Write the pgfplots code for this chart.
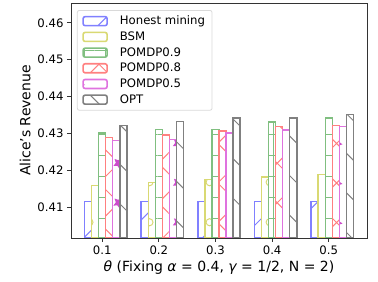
\documentclass[border=0pt]{standalone}
\usepackage{pgfplots}
\pgfplotsset{compat=1.18}
\usepackage{pgfplotstable}
\usepackage{fontspec}
\setmainfont{DejaVu Sans}
\usetikzlibrary{patterns.meta}
\definecolor{cHon}{rgb}{0.5,0.5,1}
\definecolor{cBSM}{rgb}{0.85,0.85,0.45}
\definecolor{cP9}{rgb}{0.5,0.75,0.5}
\definecolor{cP8}{rgb}{1,0.5,0.5}
\definecolor{cP5}{rgb}{0.875,0.45,0.875}
\definecolor{cP5s}{rgb}{0.8,0.3,0.8}
\definecolor{cOPT}{rgb}{0.5,0.5,0.5}
\tikzdeclarepattern{
  name=mycircles, type=uncolored,
  bottom left={(0pt,0pt)}, top right={(20pt,40pt)},
  tile size={(20pt,40pt)},
  code={\draw[line width=1pt] (10pt,20pt) circle[radius=3.6pt];}
}
\pgfplotstableread{
theta hon bsm p9 p8 p5 opt
0.1 0.4115 0.4158 0.4301 0.4289 0.4280 0.4322
0.2 0.4115 0.4167 0.4310 0.4296 0.4284 0.4333
0.3 0.4115 0.4175 0.4310 0.4307 0.4301 0.4342
0.4 0.4115 0.4182 0.4331 0.4318 0.4309 0.4342
0.5 0.4115 0.4188 0.4342 0.4322 0.4318 0.4352
}\data
\pgfplotsset{
  mylegend/.style={legend image code/.code={\draw[##1,bar shift=0pt,line width=1.6pt] (0pt,-4.5pt) rectangle (24pt,4.5pt);}},
}
\begin{document}
\begin{tikzpicture}
\begin{axis}[
  scale only axis, width=296pt, height=235pt,
  xmin=0.045, xmax=0.5675, ymin=0.4016, ymax=0.4654,
  ybar, bar width=7.06pt,
  xtick={0.1,0.2,0.3,0.4,0.5},
  ytick={0.41,0.42,0.43,0.44,0.45,0.46},
  xtick pos=bottom, ytick pos=left,
  tick align=outside, major tick length=4pt,
  tick style={black!80, line width=0.8pt},
  axis line style={black!80, line width=0.8pt},
  /pgf/number format/assume math mode=true,
  x tick label style={/pgf/number format/fixed, /pgf/number format/precision=1, /pgf/number format/fixed zerofill, font=\fontsize{11.7}{14}\selectfont},
  y tick label style={/pgf/number format/fixed, /pgf/number format/precision=2, /pgf/number format/fixed zerofill, font=\fontsize{11.7}{14}\selectfont},
  scaled y ticks=false, scaled x ticks=false,
  xlabel={{\itshape θ} (Fixing {\itshape α} = 0.4, {\itshape γ} = 1/2, N = 2)},
  ylabel={Alice's Revenue},
  label style={font=\fontsize{14}{17}\selectfont},
  legend cell align=left,
  legend style={at={(0.02,0.97)}, anchor=north west, draw=black!15, line width=0.8pt, rounded corners=2pt, fill=white, fill opacity=0.8, text opacity=1, draw opacity=1, font=\fontsize{11.7}{14}\selectfont, row sep=1.5pt, inner xsep=5pt, inner ysep=3.5pt, column sep=10pt},
]
\addplot[draw=cHon, line width=1.4pt, pattern={Lines[angle=45,distance=28pt,line width=1pt]}, pattern color=cHon, bar shift=-14.12pt, mylegend] table[x=theta,y=hon]{\data};
\addlegendentry{Honest mining}
\addplot[draw=cBSM, line width=1.4pt, pattern=mycircles, pattern color=cBSM, bar shift=-7.06pt, mylegend] table[x=theta,y=bsm]{\data};
\addlegendentry{BSM}
\addplot[draw=cP9, line width=1.4pt, pattern={Hatch[angle=0,distance=21pt,line width=1pt]}, pattern color=cP9, bar shift=0pt, mylegend] table[x=theta,y=p9]{\data};
\addlegendentry{POMDP0.9}
\addplot[draw=cP8, line width=1.4pt, pattern={Hatch[angle=45,distance=28pt,line width=1pt]}, pattern color=cP8, bar shift=7.06pt, mylegend] table[x=theta,y=p8]{\data};
\addlegendentry{POMDP0.8}
\addplot[draw=cP5, line width=1.4pt, pattern={Stars[angle=45,distance=28pt,radius=6pt,points=5]}, pattern color=cP5s, bar shift=14.12pt, mylegend] table[x=theta,y=p5]{\data};
\addlegendentry{POMDP0.5}
\addplot[draw=cOPT, line width=1.4pt, pattern={Lines[angle=-45,distance=28pt,line width=1pt]}, pattern color=cOPT, bar shift=21.18pt, mylegend] table[x=theta,y=opt]{\data};
\addlegendentry{OPT}
\end{axis}
\path ([xshift=-71pt,yshift=-44pt]current axis.south west) rectangle ([xshift=11pt,yshift=3pt]current axis.north east);
\end{tikzpicture}
\end{document}
